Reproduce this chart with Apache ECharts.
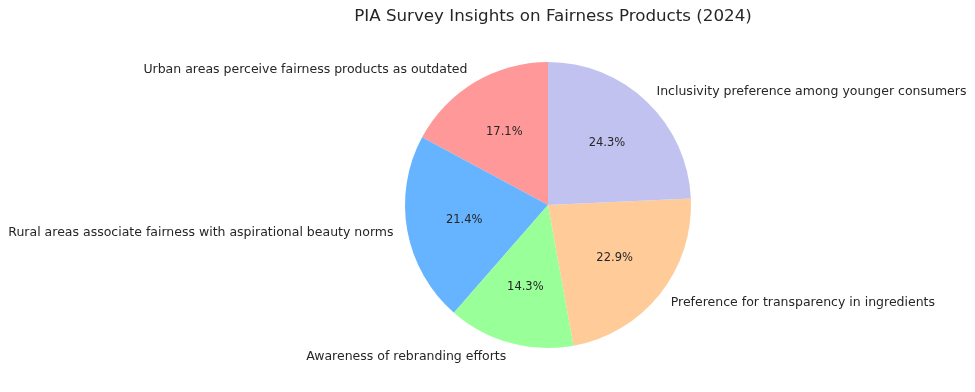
<!DOCTYPE html>
<html>
<head>
<meta charset="utf-8">
<script src="https://cdn.jsdelivr.net/npm/echarts@6/dist/echarts.min.js"></script>
<style>html,body{margin:0;padding:0;background:#fff;}#chart{width:975px;height:392px;}</style>
</head>
<body>
<div id="chart"></div>
<script>
const categories = [
  "Urban areas perceive fairness products as outdated",
  "Rural areas associate fairness with aspirational beauty norms",
  "Awareness of rebranding efforts",
  "Preference for transparency in ingredients",
  "Inclusivity preference among younger consumers"
];
const values = [12, 15, 10, 16, 17];
const colors = ["#ff9999", "#66b3ff", "#99ff99", "#ffcc99", "#c2c2f0"];

const R = 143;
const center = [548, 205];
const font = "DejaVu Sans";

const chart = echarts.init(document.getElementById('chart'), null, {renderer: 'canvas'});
const mainData = categories.map((c, i) => ({name: c, value: values[i], itemStyle: {color: colors[i]}}));
const pctData = categories.map((c, i) => ({name: c, value: values[i]}));

chart.setOption({
  animation: false,
  backgroundColor: '#fff',
  title: {
    text: 'PIA Survey Insights on Fairness Products (2024)',
    left: 548, top: 3, textAlign: 'center',
    textStyle: {fontFamily: font, fontSize: 16.7, fontWeight: 'normal', color: '#262626'}
  },
  series: [
    {
      type: 'pie',
      center: center,
      radius: [0, R],
      startAngle: 90,
      clockwise: false,
      avoidLabelOverlap: false,
      silent: true,
      data: mainData,
      itemStyle: {borderWidth: 0},
      label: {
        show: true,
        position: 'outside',
        formatter: '{b}',
        fontFamily: font,
        fontSize: 12.5,
        color: '#262626',
        padding: [5, 0, 0, 0],
        distanceToLabelLine: 0
      },
      labelLine: {show: false, length: 14, length2: 0},
      emphasis: {disabled: true}
    },
    {
      type: 'pie',
      center: center,
      radius: [0, R * 1.15],
      startAngle: 90,
      clockwise: false,
      avoidLabelOverlap: false,
      silent: true,
      data: pctData,
      itemStyle: {color: 'rgba(0,0,0,0)'},
      label: {
        show: true,
        position: 'inside',
        formatter: (p) => p.percent.toFixed(1) + '%',
        fontFamily: font,
        fontSize: 11.5,
        color: '#262626'
      },
      labelLine: {show: false},
      emphasis: {disabled: true}
    }
  ]
});
</script>
</body>
</html>
